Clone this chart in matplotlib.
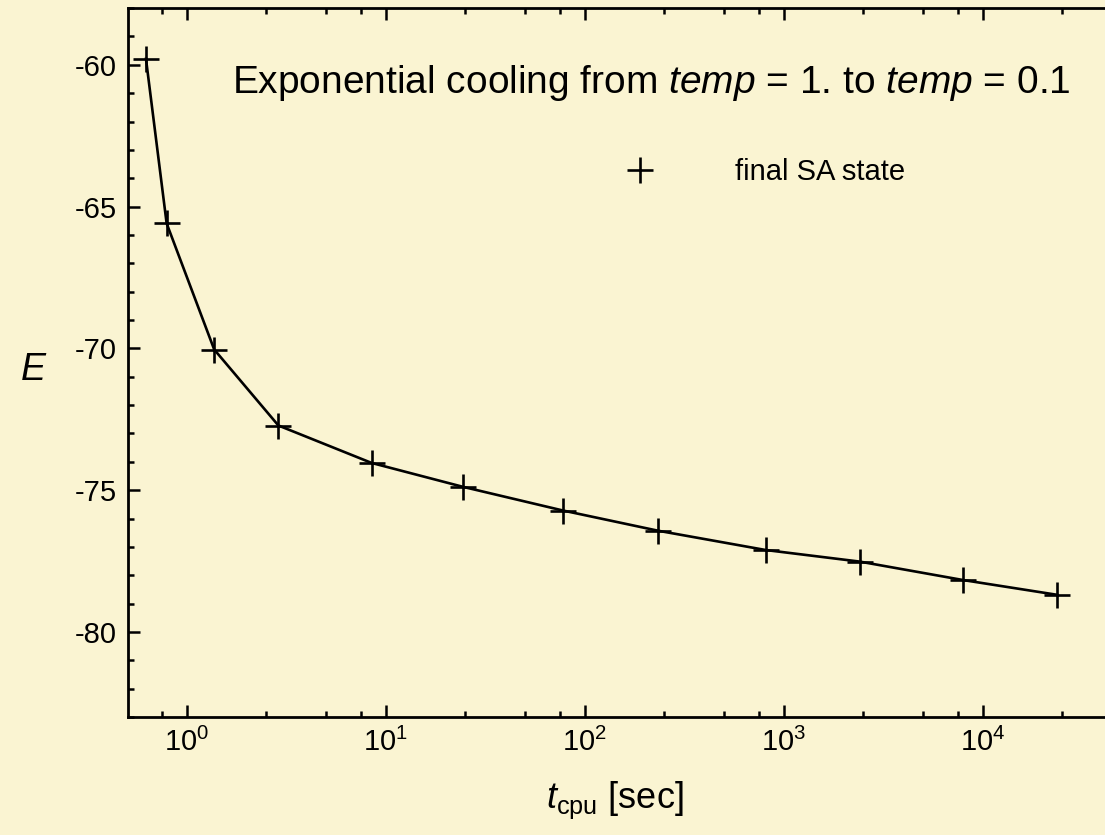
import matplotlib
matplotlib.use("Agg")
import matplotlib.pyplot as plt
from matplotlib.lines import Line2D
from matplotlib.ticker import LogLocator, MultipleLocator

# CPU time per run (seconds) and energy of the final annealed state
t_cpu = [0.622, 0.79, 1.37, 2.88, 8.47, 24.3, 77.8, 233, 809, 2410, 7960, 23600]
energy = [-59.79, -65.59, -70.04, -72.72, -74.04, -74.88, -75.72, -76.43,
          -77.11, -77.52, -78.17, -78.69]

title = r"Exponential cooling from $\mathit{temp}$ = 1. to $\mathit{temp}$ = 0.1"
legend_label = "final SA state"

bg = "#FAF4D2"

plt.rcParams["font.family"] = ["Liberation Sans", "DejaVu Sans"]
plt.rcParams["mathtext.fontset"] = "custom"
plt.rcParams["mathtext.rm"] = "Liberation Sans"
plt.rcParams["mathtext.it"] = "Liberation Sans:italic"
plt.rcParams["axes.unicode_minus"] = False

fig = plt.figure(figsize=(11.05, 8.35), dpi=100, facecolor=bg)
ax = fig.add_axes([0.1158, 0.1413, 0.8995, 0.849], facecolor=bg)

ax.plot(t_cpu, energy, color="black", lw=1.9, marker="+", ms=19,
        mew=1.9, clip_on=False)

ax.set_xscale("log")
ax.set_xlim(0.505, 5e4)
ax.set_ylim(-83.0, -58.0)

ax.xaxis.set_major_locator(LogLocator(base=10, numticks=20))
ax.xaxis.set_minor_locator(LogLocator(base=10, subs=(2.5, 5.0, 7.5), numticks=20))
ax.yaxis.set_major_locator(MultipleLocator(5))
ax.yaxis.set_minor_locator(MultipleLocator(1))

for s in ax.spines.values():
    s.set_linewidth(2.0)

ax.tick_params(which="both", direction="in", top=True, right=True,
               width=1.8, colors="black")
ax.tick_params(which="major", length=8.5, labelsize=21, pad=8)
ax.tick_params(which="minor", length=4.5)

ax.set_xlabel(r"$t_{\mathrm{cpu}}$ [sec]", fontsize=26, va="center")
ax.xaxis.set_label_coords(0.49, -0.117)
ax.set_ylabel("E", fontsize=27, style="italic", rotation=0, va="center")
ax.yaxis.set_label_coords(-0.0956, 0.489)

ax.text(0.1046, 0.880, title, transform=ax.transAxes, fontsize=28,
        va="baseline", ha="left")

handle = Line2D([], [], ls="none", color="black", marker="+", ms=19, mew=1.9)
ax.legend([handle], [legend_label], loc="center left",
          bbox_to_anchor=(0.486, 0.7687), frameon=False, fontsize=21,
          handlelength=2.0, handletextpad=2.26, borderpad=0, borderaxespad=0)

fig.savefig("out.png", dpi=100, facecolor=bg)
